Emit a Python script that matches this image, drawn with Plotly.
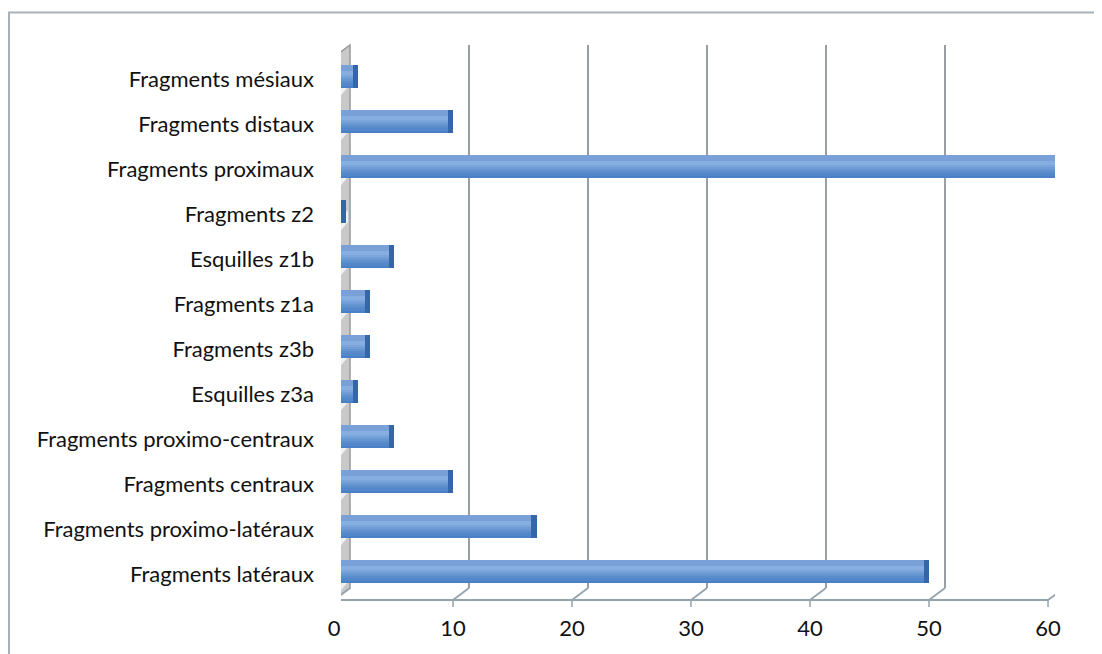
import plotly.graph_objects as go

# ---- data (top to bottom as in the reference) ----
categories = [
    "Fragments mésiaux",
    "Fragments distaux",
    "Fragments proximaux",
    "Fragments z2",
    "Esquilles z1b",
    "Fragments z1a",
    "Fragments z3b",
    "Esquilles z3a",
    "Fragments proximo-centraux",
    "Fragments centraux",
    "Fragments proximo-latéraux",
    "Fragments latéraux",
]
values = [1, 9, 60, 0, 4, 2, 2, 1, 4, 9, 16, 49]
x_ticks = [0, 10, 20, 30, 40, 50, 60]

# plotly draws first category at the bottom
cats_b = categories[::-1]
vals_b = values[::-1]

# page body has an 8px margin: lay out for the 1102x654 window, minus that margin
OFF = 8
W, H = 1102 - OFF, 654 - OFF
L, R, T, B = 341 - OFF, 47, 54 - OFF, 60
PW, PH = W - L - R, H - T - B
XMAX = 60.0
UPX = XMAX / PW            # data units per pixel
DX_BACK = 9 * UPX          # depth offsets (pixels -> units)
DX_FRONT = -7 * UPX

def py(p):                 # pixels below domain bottom -> paper y
    return -p / PH

def wy(ypix):              # window pixel y -> paper y
    return (H - B - (ypix - OFF)) / PH

def wx(xpix):              # window pixel x -> paper x
    return (xpix - OFF - L) / PW

FRONT_FLOOR = py(6)
BACK_FLOOR = py(-6)
TOP_BACK = wy(45)
TOP_FRONT = wy(57)

fig = go.Figure()

layers = [
    (-0.245, 0.49, "#4A80C6"),
    (-0.20, 0.45, "#5287CA"),
    (-0.15, 0.40, "#5B8DCD"),
    (-0.10, 0.35, "#6595D1"),
    (-0.05, 0.30, "#709DD6"),
    (0.00, 0.25, "#7CA5DB"),
    (0.03, 0.10, "#87AEE0"),
    (0.13, 0.115, "#79A1D8"),
]
for off, wd, col in layers:
    fig.add_trace(go.Bar(
        y=cats_b, x=vals_b, orientation="h",
        offset=off, width=wd,
        marker=dict(color=col, line=dict(width=0)),
        hoverinfo="skip", showlegend=False,
    ))
# dark end cap
fig.add_trace(go.Bar(
    y=cats_b, x=[0.45] * len(vals_b), base=vals_b, orientation="h",
    offset=-0.245, width=0.49,
    marker=dict(color="#3466A8", line=dict(width=0)),
    hoverinfo="skip", showlegend=False,
))

shapes = []
grid_col = "#8E9499"
floor_col = "#93A4AF"
# left wall
shapes.append(dict(
    type="path", xref="x", yref="paper", layer="below",
    path=(f"M {DX_FRONT},{FRONT_FLOOR} L {DX_BACK},{BACK_FLOOR} "
          f"L {DX_BACK},{TOP_BACK} L {DX_FRONT},{TOP_FRONT} Z"),
    fillcolor="#C9C9C9", line=dict(color="#9A9A9A", width=1.5),
))
# light diagonal streaks on the wall
n = len(categories)
for k in range(n):
    y0 = k / n
    shapes.append(dict(
        type="path", xref="x", yref="paper", layer="below",
        path=(f"M {DX_FRONT + 2*UPX},{y0 + py(2)} L {DX_BACK - 2*UPX},{y0 + py(-12)} "
              f"L {DX_BACK - 2*UPX},{y0 + py(-24)} L {DX_FRONT + 2*UPX},{y0 + py(-10)} Z"),
        fillcolor="#F0F0F0", line=dict(width=0),
    ))
# back gridlines, floor diagonals, tick marks
for v in x_ticks:
    if v > 0:
        shapes.append(dict(type="line", xref="x", yref="paper", layer="below",
                           x0=v + DX_BACK, x1=v + DX_BACK, y0=BACK_FLOOR, y1=TOP_BACK,
                           line=dict(color=grid_col, width=1.8)))
    shapes.append(dict(type="line", xref="x", yref="paper", layer="below",
                       x0=v + DX_FRONT, x1=v + DX_BACK, y0=FRONT_FLOOR, y1=BACK_FLOOR,
                       line=dict(color=floor_col, width=1.8)))
    shapes.append(dict(type="line", xref="x", yref="paper", layer="below",
                       x0=v + DX_FRONT, x1=v + DX_FRONT, y0=FRONT_FLOOR, y1=FRONT_FLOOR + py(7),
                       line=dict(color=floor_col, width=1.5)))
# front floor line
shapes.append(dict(type="line", xref="x", yref="paper", layer="below",
                   x0=DX_FRONT, x1=XMAX + DX_FRONT, y0=FRONT_FLOOR, y1=FRONT_FLOOR,
                   line=dict(color=floor_col, width=1.8)))
# y tick marks at category boundaries (front plane)
for k in range(n + 1):
    yy = k / n + py(6)
    shapes.append(dict(type="line", xref="x", yref="paper", layer="below",
                       x0=DX_FRONT - 8 * UPX, x1=DX_FRONT, y0=yy, y1=yy,
                       line=dict(color=floor_col, width=1.5)))
# outer chart border
shapes.append(dict(type="rect", xref="paper", yref="paper", layer="below",
                   x0=wx(9), x1=wx(1120), y0=wy(680), y1=wy(12.5),
                   line=dict(color="#A9B1B8", width=2), fillcolor="rgba(0,0,0,0)"))

fig.update_layout(
    width=W, height=H,
    margin=dict(l=L, r=R, t=T, b=B, autoexpand=False),
    paper_bgcolor="white", plot_bgcolor="rgba(0,0,0,0)",
    barmode="overlay", bargap=0,
    font=dict(family="Lato, 'Open Sans', sans-serif", size=22, color="#111111"),
    shapes=shapes,
    xaxis=dict(range=[0, XMAX], tickvals=x_ticks, ticktext=[str(v) for v in x_ticks],
               showgrid=False, zeroline=False, showline=False, ticks="",
               ticklabelshift=-7, ticklabelstandoff=19, fixedrange=True),
    yaxis=dict(type="category", categoryorder="array", categoryarray=cats_b,
               range=[-0.5, n - 0.5], showgrid=False, zeroline=False, showline=False,
               ticks="", ticklabelshift=3, ticklabelstandoff=26, fixedrange=True),
)

fig.write_html("out.html")
